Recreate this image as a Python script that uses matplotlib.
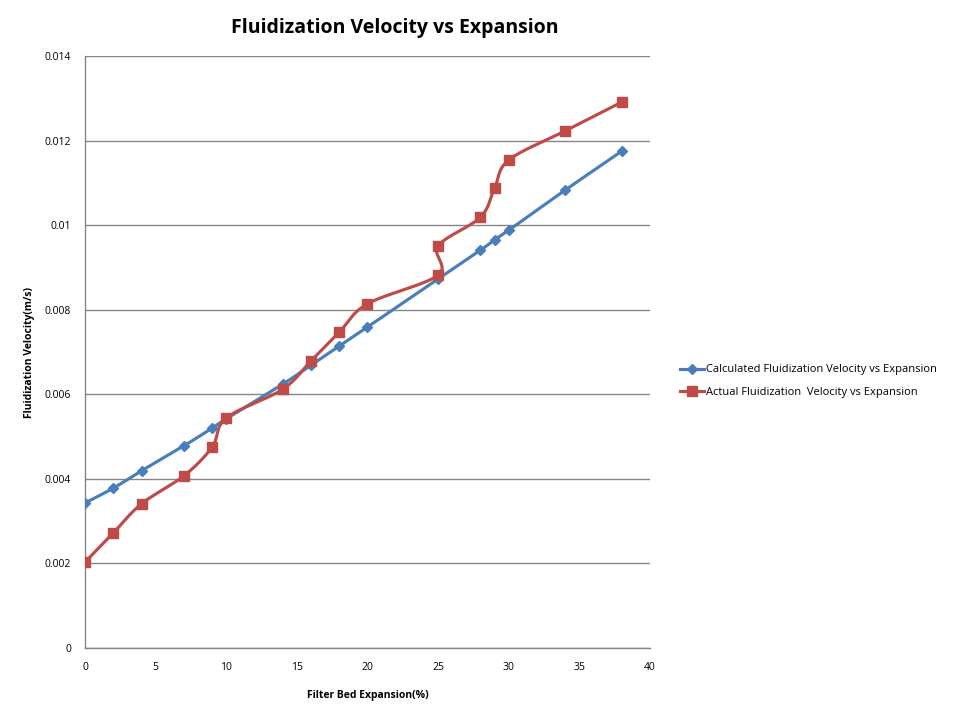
import numpy as np
import matplotlib
matplotlib.use("Agg")
import matplotlib.pyplot as plt

expansion = [0, 2, 4, 7, 9, 10, 14, 16, 18, 20, 25, 28, 29, 30, 34, 38]
calculated = [0.00343, 0.00378, 0.00419, 0.00478, 0.00520, 0.00542, 0.00624, 0.00669,
              0.00714, 0.00759, 0.00873, 0.00941, 0.00965, 0.00988, 0.01083, 0.01175]
actual_x = [0, 2, 4, 7, 9, 10, 14, 16, 18, 20, 25, 25, 28, 29, 30, 34, 38]
actual = [0.00203, 0.00272, 0.00341, 0.00407, 0.00475, 0.00544, 0.00612, 0.00679,
          0.00747, 0.00814, 0.00882, 0.00951, 0.01019, 0.01088, 0.01154, 0.01223, 0.01291]

plt.rcParams['font.family'] = ['Open Sans', 'DejaVu Sans']

fig = plt.figure(figsize=(9.6, 7.2), dpi=100)
ax = fig.add_axes([85/960, 72/720, 565/960, 592/720])
ax.set_xlim(0, 40)
ax.set_ylim(0, 0.014)


def smooth(ax, xs, ys, n=30):
    pts = ax.transData.transform(np.column_stack([xs, ys]))
    P = np.vstack([pts[0], pts, pts[-1]])
    out = []
    for i in range(1, len(P) - 2):
        p0, p1, p2, p3 = P[i - 1], P[i], P[i + 1], P[i + 2]
        c1 = p1 + (p2 - p0) / 6.0
        c2 = p2 - (p3 - p1) / 6.0
        t = np.linspace(0, 1, n)[:, None]
        seg = ((1 - t) ** 3) * p1 + 3 * ((1 - t) ** 2) * t * c1 + 3 * (1 - t) * t ** 2 * c2 + t ** 3 * p2
        out.append(seg if i == 1 else seg[1:])
    out = np.vstack(out)
    d = ax.transData.inverted().transform(out)
    return d[:, 0], d[:, 1]


blue = '#4a7ebb'
red = '#be4b48'

bx, by = smooth(ax, expansion, calculated)
rx, ry = smooth(ax, actual_x, actual)
ax.plot(bx, by, color=blue, lw=2.25, zorder=3)
ax.plot(expansion, calculated, ls='none', marker='D', ms=5.5, color=blue, zorder=4)
ax.plot(rx, ry, color=red, lw=2.25, zorder=3)
ax.plot(actual_x, actual, ls='none', marker='s', ms=7.5, color=red, zorder=4)

# legend handles
ax.plot([], [], color=blue, lw=2.25, marker='D', ms=5, label='Calculated Fluidization Velocity vs Expansion')
ax.plot([], [], color=red, lw=2.25, marker='s', ms=7, label='Actual Fluidization  Velocity vs Expansion')
leg = fig.legend(*ax.get_legend_handles_labels(), loc='center left',
                 bbox_to_anchor=(674/960, 1 - 381/720), bbox_transform=fig.transFigure,
                 frameon=False, fontsize=8, handlelength=2.2, labelspacing=1.0,
                 handletextpad=0.15, borderpad=0)

ax.set_xticks([0, 5, 10, 15, 20, 25, 30, 35, 40])
ax.set_yticks([0, 0.002, 0.004, 0.006, 0.008, 0.01, 0.012, 0.014])
ax.set_yticklabels(['0', '0.002', '0.004', '0.006', '0.008', '0.01', '0.012', '0.014'])
ax.tick_params(length=0, labelsize=7.5, pad=10)
ax.grid(axis='y', color='#868686', lw=1)
ax.set_axisbelow(True)
for s in ['top', 'right']:
    ax.spines[s].set_visible(False)
for s in ['left', 'bottom']:
    ax.spines[s].set_color('#868686')
    ax.spines[s].set_linewidth(1)

ax.set_xlabel('Filter Bed Expansion(%)', fontsize=7.5, fontweight='bold', labelpad=12)
ax.set_ylabel('Fluidization Velocity(m/s)', fontsize=7.5, fontweight='bold', labelpad=7)
fig.text(395/960, 1 - 28/720, 'Fluidization Velocity vs Expansion', fontsize=14,
         fontweight='bold', ha='center', va='center')

fig.savefig('out.png', dpi=100)
